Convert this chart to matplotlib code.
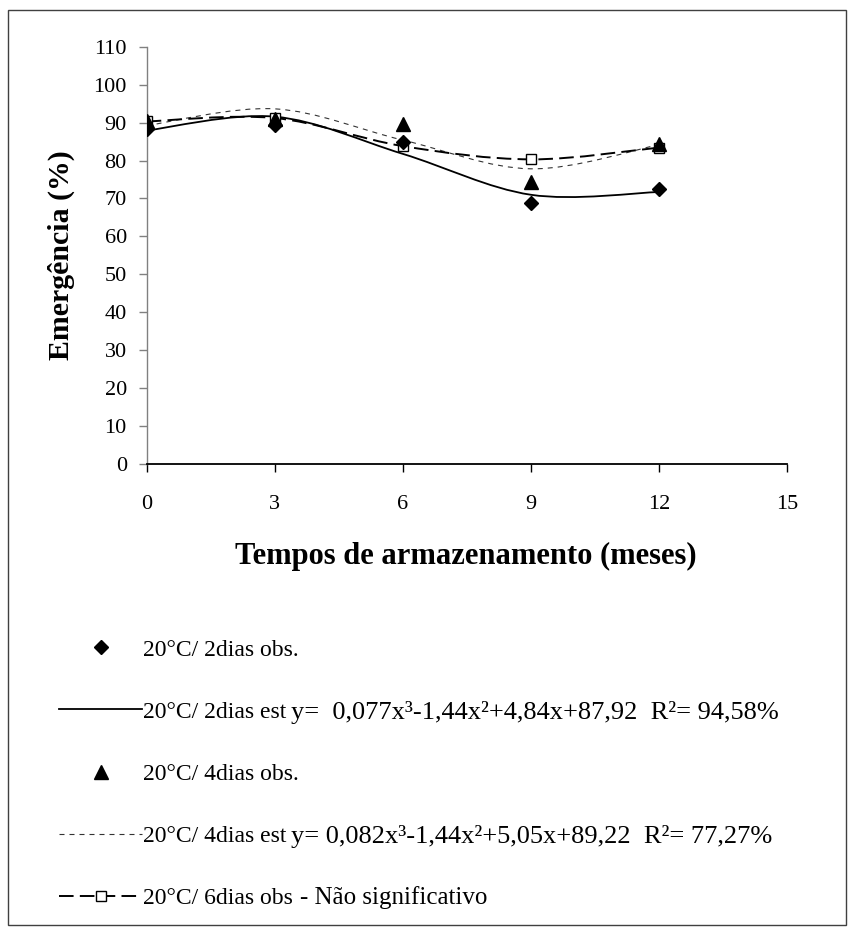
import matplotlib
matplotlib.use("Agg")
import matplotlib.pyplot as plt
from matplotlib.path import Path
from matplotlib.patches import PathPatch, Rectangle
from matplotlib.lines import Line2D

plt.rcParams["font.family"] = ["Liberation Serif", "DejaVu Serif"]
plt.rcParams["lines.scale_dashes"] = False

# storage time (months)
meses = [0, 3, 6, 9, 12]

# observed emergence (%)
obs_2dias = [88.3, 89.3, 84.8, 68.8, 72.4]
obs_4dias = [90.3, 91.0, 89.6, 74.3, 84.3]
obs_6dias = [90.3, 91.2, 83.8, 80.3, 83.4]

# estimated values (regression) at the same months
est_2dias = [87.92, 91.56, 81.75, 70.97, 71.70]
est_4dias = [89.22, 93.62, 85.39, 77.81, 84.16]

labels = [
    "20°C/ 2dias obs.",
    "20°C/ 2dias est",
    "20°C/ 4dias obs.",
    "20°C/ 4dias est",
    "20°C/ 6dias obs",
]
eq_2dias = "y=  0,077x³-1,44x²+4,84x+87,92  R²= 94,58%"
eq_4dias = "y= 0,082x³-1,44x²+5,05x+89,22  R²= 77,27%"
nota_6dias = "- Não significativo"

W, H = 851, 933


def smooth_path(xs, ys):
    # Excel-like smoothed line (cubic bezier through the points)
    pts = list(zip(xs, ys))
    verts = [pts[0]]
    codes = [Path.MOVETO]
    n = len(pts)
    for i in range(n - 1):
        p0 = pts[i - 1] if i > 0 else pts[i]
        p1, p2 = pts[i], pts[i + 1]
        p3 = pts[i + 2] if i + 2 < n else pts[i + 1]
        c1 = (p1[0] + (p2[0] - p0[0]) / 6, p1[1] + (p2[1] - p0[1]) / 6)
        c2 = (p2[0] - (p3[0] - p1[0]) / 6, p2[1] - (p3[1] - p1[1]) / 6)
        verts += [c1, c2, p2]
        codes += [Path.CURVE4] * 3
    return Path(verts, codes)


fig = plt.figure(figsize=(W / 100, H / 100), dpi=100)
ax = fig.add_axes([146.7 / W, 1 - 464 / H, (787 - 146.7) / W, (464 - 46.7) / H])

solid = dict(color="black", lw=1.3, ls="-")
thin = dict(color="#333333", lw=0.8, ls=(0, (3.6, 3.6)))
thick = dict(color="black", lw=1.4, ls=(0, (10.5, 4.5)))

ax.add_patch(PathPatch(smooth_path(meses, est_2dias), fill=False, **solid))
ax.add_patch(PathPatch(smooth_path(meses, est_4dias), fill=False, **thin))
ax.add_patch(PathPatch(smooth_path(meses, obs_6dias), fill=False, **thick))

ax.plot(meses, obs_6dias, ls="none", marker="s", ms=6.5, mfc="white", mec="black", mew=1.0, zorder=4)
ax.plot(meses, obs_4dias, ls="none", marker="^", ms=9.5, color="black", zorder=5)
ax.plot(meses, obs_2dias, ls="none", marker="D", ms=7, color="black", zorder=6)

ax.set_xlim(0, 15)
ax.set_ylim(0, 110)
ax.set_xticks(range(0, 16, 3))
ax.set_yticks(range(0, 111, 10))
for s in ("top", "right"):
    ax.spines[s].set_visible(False)
ax.spines["left"].set_color("#808080")
ax.spines["left"].set_linewidth(1.0)
ax.spines["bottom"].set_linewidth(1.3)
ax.tick_params(axis="y", direction="out", length=5.8, width=1.0, color="#808080", pad=8.5, labelsize=16)
ax.tick_params(axis="x", direction="out", length=5.5, width=1.0, color="black", pad=17, labelsize=16)

ax.set_xlabel("Tempos de armazenamento (meses)", fontsize=22, fontweight="bold")
ax.xaxis.set_label_coords(0.498, -0.187)
ax.set_ylabel("Emergência (%)", fontsize=21.5, fontweight="bold")
ax.yaxis.set_label_coords(-0.112, 0.5)

handles = [
    Line2D([], [], ls="none", marker="D", ms=7, color="black"),
    Line2D([], [], **solid),
    Line2D([], [], ls="none", marker="^", ms=9.5, color="black"),
    Line2D([], [], **thin),
    Line2D([], [], marker="s", ms=6.5, mfc="white", mec="black", mew=1.0, **thick),
]
fig.legend(handles, labels, loc="upper left", bbox_to_anchor=(59 / W, 1 - 639 / H),
           frameon=False, fontsize=17, borderpad=0, borderaxespad=0,
           handlelength=3.52, handletextpad=0.04, labelspacing=1.72, numpoints=1)

fig.text(291 / W, 1 - 712 / H, eq_2dias, fontsize=19, va="center", ha="left")
fig.text(291 / W, 1 - 836 / H, eq_4dias, fontsize=19, va="center", ha="left")
fig.text(300 / W, 1 - 898 / H, nota_6dias, fontsize=18, va="center", ha="left")

fig.add_artist(Rectangle((8 / W, 1 - 925 / H), (846 - 8) / W, (925 - 10) / H,
                         transform=fig.transFigure, fill=False, edgecolor="#404040", lw=1.0))

fig.savefig("out.png", dpi=100)
